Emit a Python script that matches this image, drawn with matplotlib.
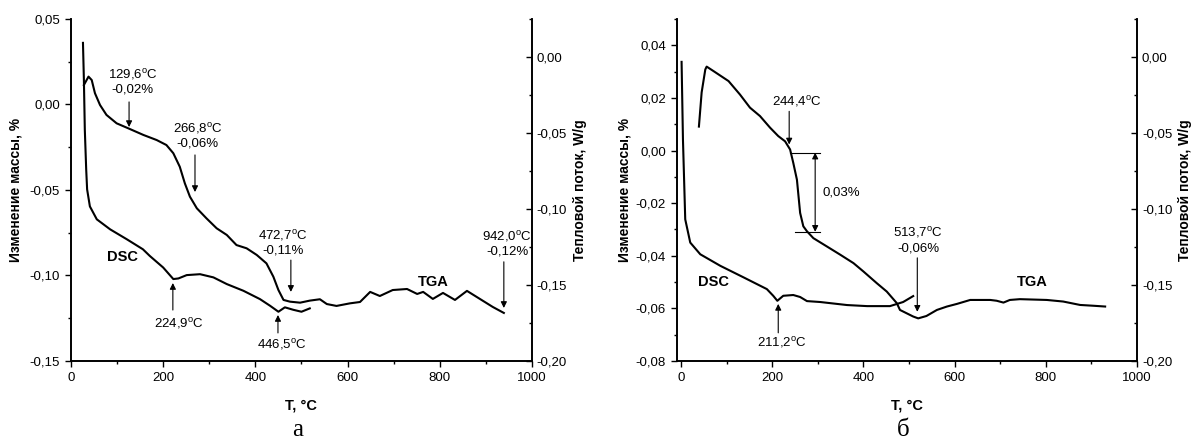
import numpy as np
import matplotlib.pyplot as plt
from matplotlib.ticker import MultipleLocator, FuncFormatter

plt.rcParams['font.family'] = ['Liberation Sans', 'DejaVu Sans']
plt.rcParams['mathtext.fontset'] = 'custom'
plt.rcParams['mathtext.rm'] = 'Liberation Sans'
plt.rcParams['mathtext.it'] = 'Liberation Sans:italic'

# --- образец (а) ---
# ТГА: изменение массы, % (левая ось)
t_tga_a = [28, 38, 45, 52, 63, 77, 99, 124, 157, 186, 207, 222, 236, 247, 258, 273, 294,
           316, 338, 359, 381, 403, 424, 439, 450, 461, 475, 497, 518, 540, 555, 576, 605,
           627, 649, 670, 698, 729, 751, 764, 785, 807, 833, 859, 887, 915, 939]
m_tga_a = [0.0114, 0.0163, 0.0143, 0.0066, -0.0003, -0.0061, -0.011, -0.0139, -0.0178,
           -0.0208, -0.0237, -0.0285, -0.0364, -0.0461, -0.0539, -0.0607, -0.0666, -0.0724,
           -0.0763, -0.0822, -0.0841, -0.088, -0.0929, -0.1007, -0.1085, -0.1143, -0.1153,
           -0.1159, -0.1147, -0.1139, -0.1167, -0.1178, -0.1163, -0.1155, -0.1096, -0.112,
           -0.1085, -0.1079, -0.1108, -0.1096, -0.1137, -0.1102, -0.1143, -0.109, -0.1137,
           -0.1184, -0.1219]
# ДСК: тепловой поток, W/g (правая ось)
t_dsc_a = [26, 28, 30, 33, 35, 41, 56, 85, 121, 156, 171, 200, 222, 233, 251, 280, 309,
           338, 374, 410, 432, 450, 464, 482, 500, 518]
q_dsc_a = [0.0093, -0.015, -0.0478, -0.074, -0.0871, -0.0983, -0.1068, -0.1134, -0.1199,
           -0.1265, -0.1309, -0.1385, -0.1461, -0.1457, -0.1435, -0.1429, -0.145, -0.1494,
           -0.1538, -0.1593, -0.1637, -0.1676, -0.1647, -0.1663, -0.1676, -0.1654]

# --- образец (б) ---
t_tga_b = [39, 45, 53, 56, 71, 104, 129, 151, 173, 195, 213, 228, 239, 246, 254, 261, 268,
           276, 290, 320, 349, 378, 400, 429, 451, 473, 480, 509, 520, 538, 561, 583, 605,
           634, 678, 692, 707, 721, 743, 802, 838, 875, 904, 930]
m_tga_b = [0.0091, 0.0221, 0.0308, 0.0319, 0.0302, 0.0264, 0.0213, 0.0163, 0.0131, 0.0087,
           0.0055, 0.0035, 0.0004, -0.0047, -0.0111, -0.0237, -0.0288, -0.0307, -0.0333,
           -0.0365, -0.0396, -0.0428, -0.046, -0.0504, -0.0536, -0.058, -0.0606, -0.0631,
           -0.0638, -0.0629, -0.0606, -0.0593, -0.0583, -0.0568, -0.0568, -0.0571, -0.0578,
           -0.0568, -0.0565, -0.0568, -0.0574, -0.0587, -0.059, -0.0593]
t_dsc_b = [1, 4, 9, 20, 42, 86, 137, 188, 202, 211, 224, 246, 261, 276, 305, 364, 408,
           458, 487, 509]
q_dsc_b = [-0.0032, -0.0543, -0.1068, -0.1221, -0.1298, -0.1374, -0.145, -0.1527, -0.1571,
           -0.1604, -0.1571, -0.1566, -0.1579, -0.1606, -0.1612, -0.1632, -0.1639, -0.1639,
           -0.1612, -0.1573]

deg = r'$^{\rm o}$C'


def comma(v, pos):
    return f'{v:.2f}'.replace('.', ',')


def arrow(ax, x, y0, y1, style='-|>'):
    ax.annotate('', xy=(x, y1), xytext=(x, y0),
                arrowprops=dict(arrowstyle=style, color='black', lw=0.8,
                                mutation_scale=9, shrinkA=0, shrinkB=0))


def setup(ax, ax2, ylim, ystep):
    ax.set_xlim(ax.get_xlim()[0], 1000)
    ax.xaxis.set_major_locator(MultipleLocator(200))
    ax.xaxis.set_minor_locator(MultipleLocator(100))
    ax.set_ylim(*ylim)
    ax.yaxis.set_major_locator(MultipleLocator(ystep))
    ax.yaxis.set_minor_locator(MultipleLocator(ystep / 2))
    ax.yaxis.set_major_formatter(FuncFormatter(comma))
    ax.tick_params(which='major', direction='out', length=4.5, width=1, labelsize=9.5)
    ax.tick_params(which='minor', direction='out', length=2.5, width=1)
    ax2.set_ylim(-0.20, 0.025)
    ax2.yaxis.set_major_locator(MultipleLocator(0.05))
    ax2.yaxis.set_minor_locator(MultipleLocator(0.025))
    ax2.yaxis.set_major_formatter(FuncFormatter(comma))
    ax2.tick_params(which='major', direction='in', length=4.5, width=1, labelsize=9.5)
    ax2.tick_params(which='minor', direction='in', length=2.5, width=1)
    for a in (ax, ax2):
        a.spines['top'].set_visible(False)
        for s in ('left', 'right', 'bottom'):
            a.spines[s].set_linewidth(1.2)
    ax.set_xlabel('T, °C', fontweight='bold', fontsize=10.5)
    ax.xaxis.set_label_coords(0.5, -0.11)
    ax.set_ylabel('Изменение массы, %', fontweight='bold', fontsize=10)
    ax.yaxis.set_label_coords(-0.106, 0.5)
    ax2.set_ylabel('Тепловой поток, W/g', fontweight='bold', fontsize=10)
    ax2.yaxis.set_label_coords(1.089, 0.5)


fig = plt.figure(figsize=(11.93, 4.45), dpi=100)

# (а)
ax = fig.add_axes([0.0595, 0.1888, 0.3864, 0.7685])
ax2 = ax.twinx()
ax.plot(t_tga_a, m_tga_a, 'k', lw=1.5)
ax2.plot(t_dsc_a, q_dsc_a, 'k', lw=1.5)
ax.set_xlim(0, 1000)
setup(ax, ax2, (-0.15, 0.05), 0.05)

fs = 9.5
ax.text(134, 0.0137, '129,6' + deg + '\n-0,02%', ha='center', va='center', fontsize=fs)
arrow(ax, 126, 0.0015, -0.0132)
ax.text(275, -0.0178, '266,8' + deg + '\n-0,06%', ha='center', va='center', fontsize=fs)
arrow(ax, 269, -0.0295, -0.0512)
ax.text(460, -0.0804, '472,7' + deg + '\n-0,11%', ha='center', va='center', fontsize=fs)
arrow(ax, 477, -0.091, -0.1096)
ax.text(946, -0.081, '942,0' + deg + '\n-0,12%', ha='center', va='center', fontsize=fs)
arrow(ax, 939, -0.092, -0.119)
ax.text(234, -0.1278, '224,9' + deg, ha='center', va='center', fontsize=fs)
arrow(ax, 221, -0.1202, -0.1044)
ax.text(457, -0.1406, '446,5' + deg, ha='center', va='center', fontsize=fs)
arrow(ax, 449, -0.1336, -0.1231)
ax.text(111, -0.0892, 'DSC', ha='center', va='center', fontsize=10.5, fontweight='bold')
ax.text(785, -0.1038, 'TGA', ha='center', va='center', fontsize=10.5, fontweight='bold')

# (б)
bx = fig.add_axes([0.5675, 0.1888, 0.3856, 0.7685])
bx2 = bx.twinx()
bx.plot(t_tga_b, m_tga_b, 'k', lw=1.5)
bx2.plot(t_dsc_b, q_dsc_b, 'k', lw=1.5)
bx.set_xlim(-9, 1000)
setup(bx, bx2, (-0.08, 0.05), 0.02)
bx.yaxis.set_label_coords(-0.098, 0.5)

bx.text(254, 0.0187, '244,4' + deg, ha='center', va='center', fontsize=fs)
arrow(bx, 237, 0.0149, 0.0023)
bx.plot([239, 305], [-0.0008, -0.0008], 'k', lw=0.8)
bx.plot([250, 305], [-0.0309, -0.0309], 'k', lw=0.8)
arrow(bx, 294, -0.0008, -0.0309, style='<|-|>')
bx.text(311, -0.016, '0,03%', ha='left', va='center', fontsize=fs)
bx.text(520, -0.0339, '513,7' + deg + '\n-0,06%', ha='center', va='center', fontsize=fs)
arrow(bx, 518, -0.0408, -0.0613)
bx.text(221, -0.0731, '211,2' + deg, ha='center', va='center', fontsize=fs)
arrow(bx, 213, -0.0693, -0.0583)
bx.text(70, -0.0499, 'DSC', ha='center', va='center', fontsize=10.5, fontweight='bold')
bx.text(770, -0.0499, 'TGA', ha='center', va='center', fontsize=10.5, fontweight='bold')

fig.text(298 / 1193, 1 - 430 / 445, 'а', family='Liberation Serif', fontsize=18,
         ha='center', va='center')
fig.text(903 / 1193, 1 - 430 / 445, 'б', family='Liberation Serif', fontsize=18,
         ha='center', va='center')

fig.savefig('out.png', dpi=100)
